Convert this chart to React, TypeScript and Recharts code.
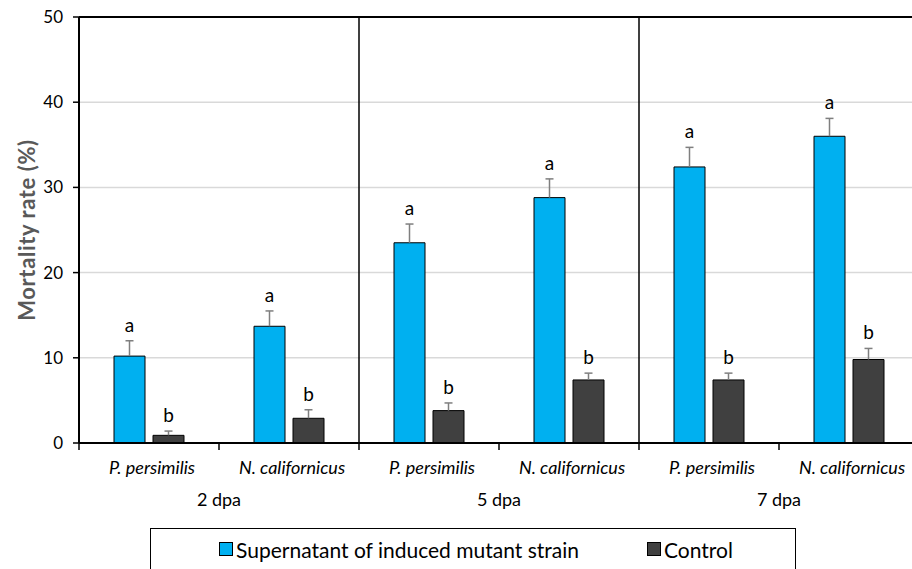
import React from 'react';
import {
  Bar,
  BarChart,
  CartesianGrid,
  LabelList,
  ReferenceLine,
  Rectangle,
  XAxis,
  YAxis,
} from 'recharts';

// Mortality (%) per predator species at each sampling day
const species = ['P. persimilis', 'N. californicus'];
const days = ['2 dpa', '5 dpa', '7 dpa'];

const supernatant = [10.2, 13.7, 23.5, 28.8, 32.4, 36.0];
const supernatantErr = [1.8, 1.8, 2.2, 2.2, 2.3, 2.1];
const supernatantLetters = ['a', 'a', 'a', 'a', 'a', 'a'];

const control = [0.9, 2.9, 3.8, 7.4, 7.4, 9.8];
const controlErr = [0.5, 1.0, 0.9, 0.8, 0.8, 1.3];
const controlLetters = ['b', 'b', 'b', 'b', 'b', 'b'];

const yTicks = [0, 10, 20, 30, 40, 50];

const BLUE = '#00B0F0';
const DARK = '#404040';
const FONT = 'Lato, "Open Sans", sans-serif';

const data = days.flatMap((day, d) =>
  species.map((sp, s) => {
    const i = d * species.length + s;
    return {
      key: `${day}-${sp}`,
      species: sp,
      day,
      supernatant: supernatant[i],
      supernatantErr: supernatantErr[i],
      supernatantLetter: supernatantLetters[i],
      control: control[i],
      controlErr: controlErr[i],
      controlLetter: controlLetters[i],
    };
  })
);

// ticks on the numeric axis: integers mark boundaries, halves carry species names
const axisTicks = Array.from({ length: data.length * 2 + 1 }, (_, i) => i / 2);

// bar with a one-sided (upward) error whisker
function makeBarShape(errKey: string) {
  return (props: any) => {
    const { x, y, width, height, payload, value, fill } = props;
    const v = Array.isArray(value) ? value[1] - value[0] : value;
    const pxPerUnit = v ? height / v : 0;
    const err = payload[errKey] * pxPerUnit;
    const cx = x + width / 2;
    return (
      <g>
        <Rectangle x={x} y={y} width={width} height={height} fill={fill} stroke="#000" strokeWidth={1} />
        <line x1={cx} x2={cx} y1={y} y2={y - err} stroke="#7F7F7F" strokeWidth={1.5} />
        <line x1={cx - 4} x2={cx + 4} y1={y - err} y2={y - err} stroke="#7F7F7F" strokeWidth={1.5} />
      </g>
    );
  };
}

function makeLetter(errKey: string, valueKey: string) {
  return (props: any) => {
    const { x, y, width, height, value, index } = props;
    const row = data[index];
    const pxPerUnit = height / row[valueKey];
    const top = y - row[errKey] * pxPerUnit;
    return (
      <text
        x={x + width / 2}
        y={top - 9}
        textAnchor="middle"
        fontSize={19}
        fontFamily={FONT}
        fill="#000"
      >
        {value}
      </text>
    );
  };
}

function BottomTick(props: any) {
  const { x, y, payload } = props;
  const v = payload.value;
  if (Number.isInteger(v)) {
    const groupIdx = (v - 1) / 2;
    return (
      <g>
        <line x1={x} x2={x} y1={y} y2={y + 7} stroke="#000" strokeWidth={1.5} />
        {v % 2 === 1 && (
          <text x={x} y={y + 63} textAnchor="middle" fontSize={18} fontFamily={FONT} fill="#000">
            {days[groupIdx]}
          </text>
        )}
      </g>
    );
  }
  const sp = species[Math.floor(v) % species.length];
  return (
    <text
      x={x + 3}
      y={y + 31}
      textAnchor="middle"
      fontSize={18}
      fontStyle="italic"
      fontFamily={FONT}
      fill="#000"
    >
      {sp}
    </text>
  );
}

function YLabel(props: any) {
  const { viewBox } = props;
  const cy = viewBox.y + viewBox.height / 2;
  const cx = 26;
  return (
    <text
      x={cx}
      y={cy}
      transform={`rotate(-90 ${cx} ${cy})`}
      textAnchor="middle"
      dominantBaseline="central"
      fontSize={22}
      fontWeight="bold"
      letterSpacing={0.6}
      fontFamily={FONT}
      fill="#595959"
    >
      Mortality rate (%)
    </text>
  );
}

const legendItems = [
  { name: 'Supernatant of induced mutant strain', color: BLUE },
  { name: 'Control', color: DARK },
];

export default function App() {
  return (
    <div
      style={{
        position: 'absolute',
        left: 0,
        top: 0,
        width: 912,
        height: 569,
        overflow: 'hidden',
        background: '#fff',
      }}
    >
      <BarChart
        width={940}
        height={569}
        data={data}
        margin={{ top: 17, right: 21, bottom: 36, left: 0 }}
        barSize={31}
        barGap={8}
      >
        <CartesianGrid vertical={false} stroke="#D9D9D9" strokeWidth={1.5} />
        <XAxis xAxisId="cat" dataKey="key" hide height={0} />
        <XAxis
          xAxisId="num"
          type="number"
          dataKey={() => 0}
          domain={[0, data.length]}
          allowDataOverflow
          ticks={axisTicks}
          interval={0}
          tick={<BottomTick />}
          tickLine={false}
          tickSize={0}
          tickMargin={0}
          axisLine={{ stroke: '#000', strokeWidth: 2 }}
          height={90}
        />
        <YAxis
          width={79}
          domain={[0, 50]}
          ticks={yTicks}
          interval={0}
          axisLine={{ stroke: '#000', strokeWidth: 2 }}
          tickLine={{ stroke: '#000', strokeWidth: 1.5 }}
          tickSize={6}
          tickMargin={10}
          tick={{ fontSize: 17, fontFamily: FONT, fill: '#000' }}
          label={<YLabel />}
        />
        <ReferenceLine y={50} xAxisId="num" stroke="#000" strokeWidth={2} />
        <ReferenceLine x={2} xAxisId="num" stroke="#000" strokeWidth={1.5} />
        <ReferenceLine x={4} xAxisId="num" stroke="#000" strokeWidth={1.5} />
        <Bar
          xAxisId="cat"
          dataKey="supernatant"
          name={legendItems[0].name}
          fill={BLUE}
          shape={makeBarShape('supernatantErr')}
          isAnimationActive={false}
        >
          <LabelList dataKey="supernatantLetter" content={makeLetter('supernatantErr', 'supernatant')} />
        </Bar>
        <Bar
          xAxisId="cat"
          dataKey="control"
          name={legendItems[1].name}
          fill={DARK}
          shape={makeBarShape('controlErr')}
          isAnimationActive={false}
        >
          <LabelList dataKey="controlLetter" content={makeLetter('controlErr', 'control')} />
        </Bar>
      </BarChart>
      <div
        style={{
          position: 'absolute',
          left: 150,
          top: 528,
          width: 646,
          height: 60,
          border: '1.5px solid #000',
          boxSizing: 'border-box',
          display: 'flex',
          justifyContent: 'center',
          gap: 68,
          paddingTop: 8,
          paddingLeft: 6,
          fontFamily: FONT,
          fontSize: 21,
        }}
      >
        {legendItems.map((it) => (
          <div key={it.name} style={{ display: 'flex', alignItems: 'center', height: 24 }}>
            <span
              style={{
                display: 'inline-block',
                width: 12,
                height: 12,
                background: it.color,
                border: '1px solid #000',
                marginRight: 3,
              }}
            />
            <span>{it.name}</span>
          </div>
        ))}
      </div>
    </div>
  );
}
